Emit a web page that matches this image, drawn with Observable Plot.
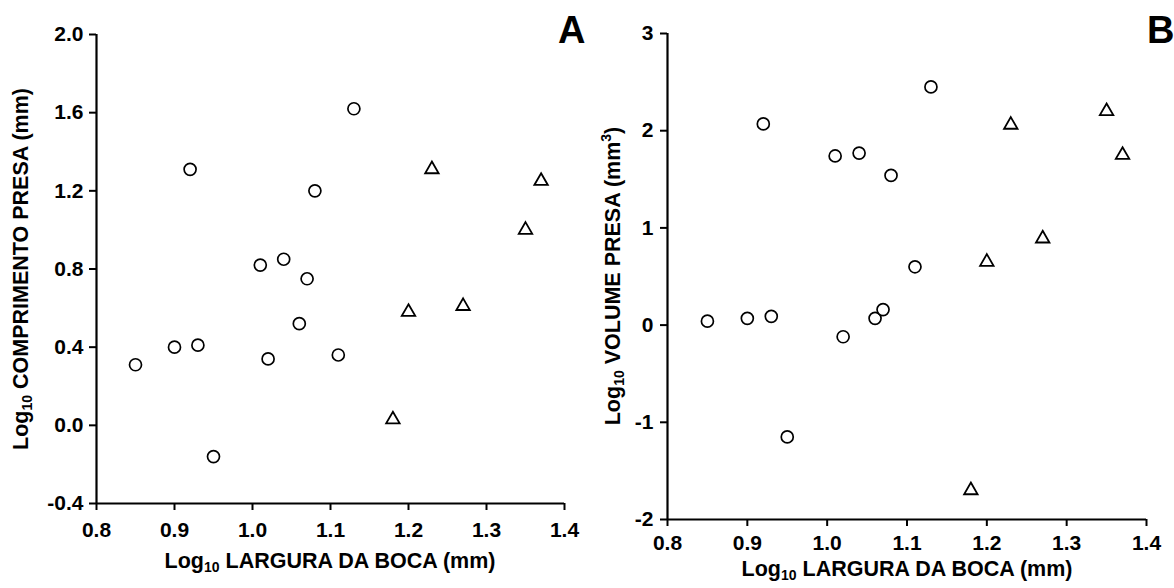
<!DOCTYPE html>
<html>
<head>
<meta charset="utf-8">
<script src="https://cdn.jsdelivr.net/npm/d3@7"></script>
<script src="https://cdn.jsdelivr.net/npm/@observablehq/plot@0.6"></script>
<style>
  html, body { margin: 0; padding: 0; background: #fff; }
  #wrap { position: relative; width: 1174px; height: 588px; background: #fff; overflow: hidden;
          font-family: "Liberation Sans", Arial, sans-serif; font-weight: bold; color: #000; }
  .panel { position: absolute; top: 0; }
  .panel svg text { font-family: "Liberation Sans", Arial, sans-serif !important; font-size: 21px !important; font-weight: bold !important; fill: #000; }
  .title { position: absolute; font-size: 21.5px; white-space: nowrap; line-height: 1; }
  .title sub { font-size: 14px; vertical-align: -4px; line-height: 0; }
  .title sup { font-size: 14px; vertical-align: 9px; line-height: 0; }
  .ytitle { transform: translate(-50%, -50%) rotate(-90deg); }
  .xtitle { transform: translate(-50%, -50%); }
  .letter { position: absolute; font-size: 38px; line-height: 1; }
</style>
</head>
<body>
<div id="wrap">
  <div id="panelA" class="panel" style="left:0px;"></div>
  <div id="panelB" class="panel" style="left:590px;"></div>
  <div class="title ytitle" style="left:22px; top:269px;">Log<sub>10</sub> COMPRIMENTO PRESA (mm)</div>
  <div class="title xtitle" style="left:330px; top:562px;">Log<sub>10</sub> LARGURA DA BOCA (mm)</div>
  <div class="title ytitle" style="left:614px; top:276px;">Log<sub>10</sub> VOLUME PRESA (mm<sup>3</sup>)</div>
  <div class="title xtitle" style="left:907px; top:570px;">Log<sub>10</sub> LARGURA DA BOCA (mm)</div>
  <div class="letter" style="left:558px; top:11px;">A</div>
  <div class="letter" style="left:1147px; top:11px;">B</div>
</div>
<script>
// ---- data ----
const xTicks = [0.8, 0.9, 1.0, 1.1, 1.2, 1.3, 1.4];
const yTicksA = [-0.4, 0.0, 0.4, 0.8, 1.2, 1.6, 2.0];
const yTicksB = [-2, -1, 0, 1, 2, 3];

// circles (open)
const circleX       = [0.85, 0.90, 0.92, 0.93, 0.95, 1.01, 1.02, 1.04, 1.06, 1.07, 1.08, 1.11, 1.13];
const circleLengthA = [0.31, 0.40, 1.31, 0.41, -0.16, 0.82, 0.34, 0.85, 0.52, 0.75, 1.20, 0.36, 1.62];
const circleVolumeB = [0.04, 0.07, 2.07, 0.09, -1.15, 1.74, -0.12, 1.77, 0.07, 0.16, 1.54, 0.60, 2.45];

// triangles (open)
const triangleX       = [1.18, 1.20, 1.23, 1.27, 1.35, 1.37];
const triangleLengthA = [0.03, 0.58, 1.31, 0.61, 1.00, 1.25];
const triangleVolumeB = [-1.70, 0.65, 2.06, 0.89, 2.20, 1.75];

const xDomain = [0.8, 1.4];
const yDomainA = [-0.4, 2.0];
const yDomainB = [-2, 3];

function panel({width, height, margins, yDomain, yTicks, yFmt, xPad, yPad, cy, ty}) {
  const circles = circleX.map((x, i) => ({x, y: cy[i]}));
  const tris = triangleX.map((x, i) => ({x, y: ty[i]}));
  return Plot.plot({
    width, height,
    marginLeft: margins[0], marginRight: margins[1], marginTop: margins[2], marginBottom: margins[3],
    style: {background: "white", overflow: "visible"},
    x: {domain: xDomain},
    y: {domain: yDomain},
    marks: [
      Plot.axisX({ticks: xTicks, tickFormat: d => d.toFixed(1), tickSize: 7, tickPadding: xPad, strokeWidth: 2, label: null}),
      Plot.axisY({ticks: yTicks, tickFormat: yFmt, tickSize: 7, tickPadding: yPad, strokeWidth: 2, label: null}),
      Plot.ruleX([xDomain[0]], {y1: yDomain[0], y2: yDomain[1], stroke: "black", strokeWidth: 2.2}),
      Plot.ruleY([yDomain[0]], {x1: xDomain[0], x2: xDomain[1], stroke: "black", strokeWidth: 2.2}),
      Plot.dot(circles, {x: "x", y: "y", r: 6, symbol: "circle", stroke: "black", fill: "white", strokeWidth: 1.7}),
      Plot.dot(tris, {x: "x", y: "y", r: 5, symbol: "triangle", stroke: "black", fill: "white", strokeWidth: 1.8})
    ]
  });
}

document.getElementById("panelA").append(panel({
  width: 590, height: 588, margins: [96, 26, 34, 85],
  yDomain: yDomainA, yTicks: yTicksA, yFmt: d => d.toFixed(1), xPad: 12, yPad: 6,
  cy: circleLengthA, ty: triangleLengthA
}));

document.getElementById("panelB").append(panel({
  width: 584, height: 588, margins: [77, 28, 33, 69],
  yDomain: yDomainB, yTicks: yTicksB, yFmt: d => d.toFixed(0), xPad: 9, yPad: 7,
  cy: circleVolumeB, ty: triangleVolumeB
}));
</script>
</body>
</html>
